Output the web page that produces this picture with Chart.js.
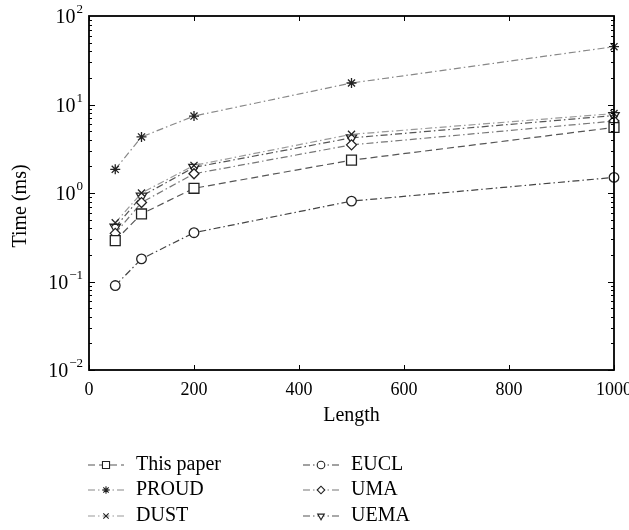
<!DOCTYPE html>
<html lang="en">
<head>
<meta charset="utf-8">
<title>Time vs Length</title>
<script src="https://cdn.jsdelivr.net/npm/chart.js@4.4.1/dist/chart.umd.min.js"></script>
<style>
  html, body { margin: 0; padding: 0; background: #fff; }
</style>
</head>
<body>
<canvas id="chart" width="629" height="530"></canvas>
<script>
// data (log y axis)
var lengths   = [50, 100, 200, 500, 1000];
var thisPaper = [0.29, 0.58, 1.13, 2.35, 5.5];
var proud     = [1.85, 4.3, 7.4, 17.5, 45];
var dust      = [0.46, 1.0, 2.05, 4.6, 7.9];
var eucl      = [0.09, 0.18, 0.356, 0.81, 1.5];
var uma       = [0.35, 0.78, 1.65, 3.5, 6.5];
var uema      = [0.41, 0.92, 1.95, 4.2, 7.5];

var xTicks = [0, 200, 400, 600, 800, 1000];
var yTicks = [0.01, 0.1, 1, 10, 100];
var yTickExps = ['\u22122', '\u22121', '0', '1', '2'];

var serif = '"Liberation Serif", "DejaVu Serif", serif';
var dashDot = [7, 3, 1.5, 3];

function pts(ys) {
  return ys.map(function (y, i) { return { x: lengths[i], y: y }; });
}

function series(label, ys, lineColor, dash, style, r, rot) {
  return {
    label: label,
    data: pts(ys),
    borderColor: lineColor,
    borderWidth: 1.2,
    borderDash: dash,
    pointStyle: style,
    pointRadius: r,
    pointRotation: rot || 0,
    pointBorderColor: '#222',
    pointBackgroundColor: '#fff',
    pointBorderWidth: 1.3,
    fill: false,
    tension: 0,
    clip: false
  };
}

var datasets = [
  series('EUCL', eucl, '#444', dashDot, 'circle', 4.8),
  series('This paper', thisPaper, '#555', [7, 4], 'rect', 7),
  series('UMA', uma, '#777', dashDot, 'rectRot', 5),
  series('DUST', dust, '#999', dashDot, 'crossRot', 5),
  series('UEMA', uema, '#555', dashDot, 'triangle', 6, 180),
  series('PROUD', proud, '#888', dashDot, 'star', 5)
];

// legend layout: two columns, three rows
var legendCols = [['This paper', 'PROUD', 'DUST'], ['EUCL', 'UMA', 'UEMA']];

var framePlugin = {
  id: 'frame',
  afterDraw: function (chart) {
    var ctx = chart.ctx, a = chart.chartArea;
    var xs = chart.scales.x, ys = chart.scales.y;
    ctx.save();
    ctx.setLineDash([]);
    ctx.strokeStyle = '#000';
    ctx.lineWidth = 1;
    // inward ticks
    ctx.beginPath();
    xTicks.forEach(function (v) {
      var px = Math.round(xs.getPixelForValue(v)) + 0.5;
      ctx.moveTo(px, a.bottom); ctx.lineTo(px, a.bottom - 5);
      ctx.moveTo(px, a.top); ctx.lineTo(px, a.top + 5);
    });
    for (var d = -2; d <= 1; d++) {
      for (var m = 1; m <= 9; m++) {
        var v = m * Math.pow(10, d);
        var len = m === 1 ? 6 : 3;
        var py = Math.round(ys.getPixelForValue(v)) + 0.5;
        ctx.moveTo(a.left, py); ctx.lineTo(a.left + len, py);
        ctx.moveTo(a.right, py); ctx.lineTo(a.right - len, py);
      }
    }
    ctx.stroke();
    // box
    ctx.lineWidth = 1.8;
    ctx.strokeRect(a.left, a.top, a.right - a.left, a.bottom - a.top);

    // y tick labels with superscript exponents
    ctx.fillStyle = '#000';
    ctx.textBaseline = 'middle';
    yTicks.forEach(function (v, i) {
      var py = ys.getPixelForValue(v);
      ctx.font = '13px ' + serif;
      ctx.textAlign = 'right';
      var ew = ctx.measureText(yTickExps[i]).width;
      ctx.fillText(yTickExps[i], 83, py - 6);
      ctx.font = '20px ' + serif;
      ctx.fillText('10', 83 - ew - 1, py + 2);
    });

    // y axis title, a little below the middle as in the figure
    ctx.save();
    ctx.translate(21, (a.top + a.bottom) / 2 + 13);
    ctx.rotate(-Math.PI / 2);
    ctx.textAlign = 'center';
    ctx.font = '20px ' + serif;
    ctx.fillText('Time (ms)', 0, 0);
    ctx.restore();

    // legend
    var colX = [88, 303];
    var rowY = [465, 490, 516];
    legendCols.forEach(function (col, c) {
      col.forEach(function (name, r) {
        var ds = chart.data.datasets.filter(function (d) { return d.label === name; })[0];
        var x0 = colX[c], y = rowY[r];
        ctx.strokeStyle = ds.borderColor;
        ctx.lineWidth = 1.2;
        ctx.setLineDash(ds.borderDash);
        ctx.beginPath();
        ctx.moveTo(x0, y); ctx.lineTo(x0 + 36, y);
        ctx.stroke();
        ctx.setLineDash([]);
        ctx.strokeStyle = '#222';
        ctx.fillStyle = '#fff';
        ctx.lineWidth = 1.1;
        Chart.helpers.drawPoint(ctx, {
          pointStyle: ds.pointStyle,
          radius: ds.pointStyle === 'rect' ? 5 : 3.8,
          rotation: ds.pointRotation,
          borderWidth: 1.1
        }, x0 + 18, y);
        ctx.fillStyle = '#000';
        ctx.font = '20px ' + serif;
        ctx.textAlign = 'left';
        ctx.textBaseline = 'middle';
        ctx.fillText(name, x0 + 48, y);
      });
    });
    ctx.restore();
  }
};

new Chart(document.getElementById('chart'), {
  type: 'line',
  data: { datasets: datasets },
  options: {
    responsive: false,
    animation: false,
    devicePixelRatio: 1,
    layout: { padding: { left: 0, right: 15, top: 16, bottom: 102 } },
    plugins: { legend: { display: false }, tooltip: { enabled: false } },
    scales: {
      x: {
        type: 'linear',
        min: 0,
        max: 1000,
        afterBuildTicks: function (s) { s.ticks = xTicks.map(function (v) { return { value: v }; }); },
        afterFit: function (s) { s.height = 58; s.paddingLeft = 0; s.paddingRight = 0; },
        grid: { display: false, drawTicks: false },
        border: { display: false },
        ticks: {
          padding: 9,
          color: '#000',
          font: { family: serif, size: 18 },
          maxRotation: 0,
          callback: function (v) { return String(v); }
        },
        title: { display: true, text: 'Length', color: '#000', font: { family: serif, size: 20 }, padding: 0 }
      },
      y: {
        type: 'logarithmic',
        min: 0.01,
        max: 100,
        afterFit: function (s) { s.width = 89; s.paddingTop = 0; s.paddingBottom = 0; },
        grid: { display: false, drawTicks: false },
        border: { display: false },
        ticks: { display: false }
      }
    }
  },
  plugins: [framePlugin]
});
</script>
</body>
</html>
